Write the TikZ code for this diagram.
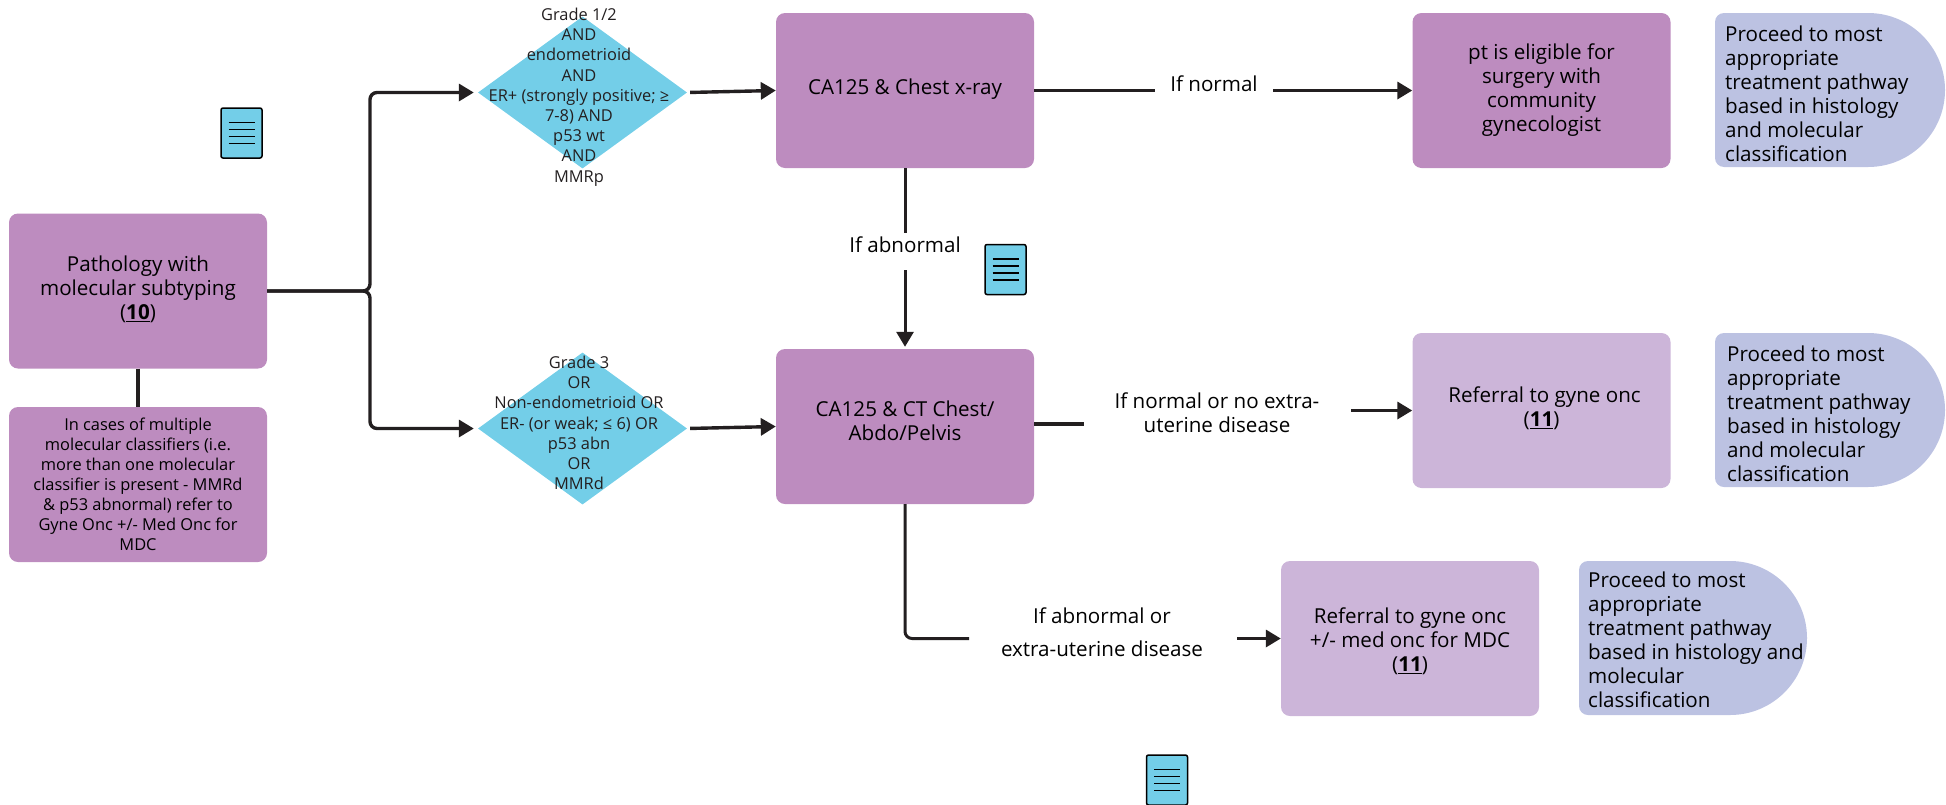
\documentclass[tikz,border=0pt]{standalone}
\usepackage{fontspec}
\setmainfont{Open Sans}
\usetikzlibrary{arrows.meta,shapes.geometric}
\definecolor{plum}{HTML}{BD8CBF}
\definecolor{lilac}{HTML}{CCB5D9}
\definecolor{peri}{HTML}{BCC2E2}
\definecolor{sky}{HTML}{73CEE8}
\definecolor{ink}{HTML}{231F20}
\tikzset{
  x=1pt,y=-1pt,
  boxnode/.style={rectangle,rounded corners=9pt,minimum width=258pt,minimum height=155pt,inner sep=0pt,align=center,text=black,font=\fontsize{20.6}{24}\selectfont},
  plumbox/.style={boxnode,fill=plum},
  lilacbox/.style={boxnode,fill=lilac},
  dia/.style={diamond,aspect=1.375,fill=sky,minimum width=209pt,minimum height=152pt,inner sep=0pt},
  diatext/.style={align=center,inner sep=0pt,text=ink,font=\fontsize{16.4}{20.2}\selectfont},
  flowlabel/.style={align=center,inner sep=0pt,text=black,font=\fontsize{20.6}{24}\selectfont},
  gotext/.style={align=left,inner sep=0pt,anchor=west,text=black,font=\fontsize{20.6}{24}\selectfont},
  conn/.style={draw=ink,line width=3.4pt,rounded corners=7pt},
  arr/.style={conn,-{Triangle[length=15pt,width=17pt]}},
  docbox/.style={rectangle,rounded corners=2pt,draw=black,line width=1.5pt,fill=sky,minimum width=41pt,minimum height=50pt,inner sep=0pt},
}
\newcommand{\delayshape}[4]{% x0 y0 x1 y1
  \fill[peri] (#3-77,#2) arc[start angle=90,end angle=-90,x radius=77,y radius=-77] [rounded corners=9pt] -- (#1,#4) -- (#1,#2) [sharp corners] -- cycle;}
\newcommand{\docicon}[2]{% name, centre
  \node[docbox] (#1) at (#2) {};
  \foreach \dy in {-10.5,-3.5,3.5,10.5}
    \draw[black,line width=1.4pt] ([xshift=-13pt,yshift=-\dy pt]#1.center) -- ([xshift=13pt,yshift=-\dy pt]#1.center);}
\begin{document}
\begin{tikzpicture}
\useasboundingbox (0,0) rectangle (1946,804);
% boxes
\node[plumbox] (path) at (138,291) {Pathology with\\molecular subtyping\\(\underline{\textbf{10}})\\[-18pt]};
\node[plumbox,font=\fontsize{16.4}{20}\selectfont] (note) at (138,484.5) {In cases of multiple\\molecular classifiers (i.e.\\more than one molecular\\classifier is present - MMRd\\\& p53 abnormal) refer to\\Gyne Onc +/- Med Onc for\\MDC};
\node[plumbox] (xray) at (905,90.5) {CA125 \& Chest x-ray\\[-17pt]};
\node[plumbox] (ct) at (905,426.5) {CA125 \& CT Chest/\\Abdo/Pelvis\\[-12pt]};
\node[plumbox] (pt) at (1541.5,90.5) {pt is eligible for\\surgery with\\community\\gynecologist};
\node[lilacbox] (ref1) at (1541.5,410.5) {\hspace*{6pt}Referral to gyne onc\\(\underline{\textbf{11}})\\[-17pt]};
\node[lilacbox] (ref2) at (1410,638.5) {\rule{0pt}{21pt}Referral to gyne onc\\+/- med onc for MDC\\(\underline{\textbf{11}})};
% diamonds
\node[dia] (d1) at (582.5,92.5) {};
\node[dia] (d2) at (582.5,428.5) {};
\node[diatext] (d1t) at (579,97) {Grade 1/2\\AND\\endometrioid\\AND\\ER+ (strongly positive; ≥\\7-8) AND\\p53 wt\\AND\\MMRp};
\node[diatext] (d2t) at (579,423) {Grade 3\\OR\\Non-endometrioid OR\\ER- (or weak; ≤ 6) OR\\p53 abn\\OR\\MMRd};
% delay shapes
\delayshape{1715}{13}{1945}{167}
\delayshape{1715}{333}{1945}{487}
\delayshape{1579}{561}{1807}{715}
\node[gotext] (go1) at (1725,94) {Proceed to most\\appropriate\\treatment pathway\\based in histology\\and molecular\\classification};
\node[gotext] (go2) at (1727,414) {Proceed to most\\appropriate\\treatment pathway\\based in histology\\and molecular\\classification};
\node[gotext] (go3) at (1588,640) {Proceed to most\\appropriate\\treatment pathway\\based in histology and\\molecular\\classification};
% labels
\node[flowlabel] (l1) at (1214,84) {If normal};
\node[flowlabel] (l2) at (905,245) {If abnormal};
\node[flowlabel] (l3) at (1217,413) {If normal or no extra-\\uterine disease};
\node[flowlabel,font=\fontsize{20.6}{33}\selectfont] (l4) at (1102,632) {If abnormal or\\extra-uterine disease};
% connector break points
\coordinate (l1a) at (1155,90.5);
\coordinate (l1b) at (1273,90.5);
\coordinate (l2a) at (905,233);
\coordinate (l2b) at (905,270);
\coordinate (l3a) at (1084,424);
\coordinate (l3b) at (1351,410.5);
\coordinate (l4a) at (969,638.5);
\coordinate (l4b) at (1237,638.5);
\coordinate (fork) at (370,291);
\coordinate (ctstub) at (1034,424);
\coordinate (ctdrop) at (905,504);
% connectors
\draw[arr,shorten >=4pt] (path.east) -- (fork) -- (fork |- d1.west) -- (d1.west);
\draw[arr,shorten >=4pt] (path.east) -- (fork) -- (fork |- d2.west) -- (d2.west);
\draw[conn] (path.south) -- (note.north);
\draw[arr,shorten <=3pt] (d1.east) -- (xray.west);
\draw[arr,shorten <=3pt] (d2.east) -- (ct.west);
\draw[conn] (xray.east) -- (l1a);
\draw[arr] (l1b) -- (pt.west);
\draw[conn,line width=3pt] (xray.south) -- (l2a);
\draw[arr,line width=3pt,shorten >=2pt] (l2b) -- (ct.north);
\draw[conn] (ctstub) -- (l3a);
\draw[arr] (l3b) -- (ref1.west);
\draw[conn,line width=3pt] (ctdrop) -- (ctdrop |- l4a) -- (l4a);
\draw[arr] (l4b) -- (ref2.west);
% document icons
\docicon{doc1}{241.5,133}
\docicon{doc2}{1005.5,269.5}
\docicon{doc3}{1167,780}
\end{tikzpicture}
\end{document}
